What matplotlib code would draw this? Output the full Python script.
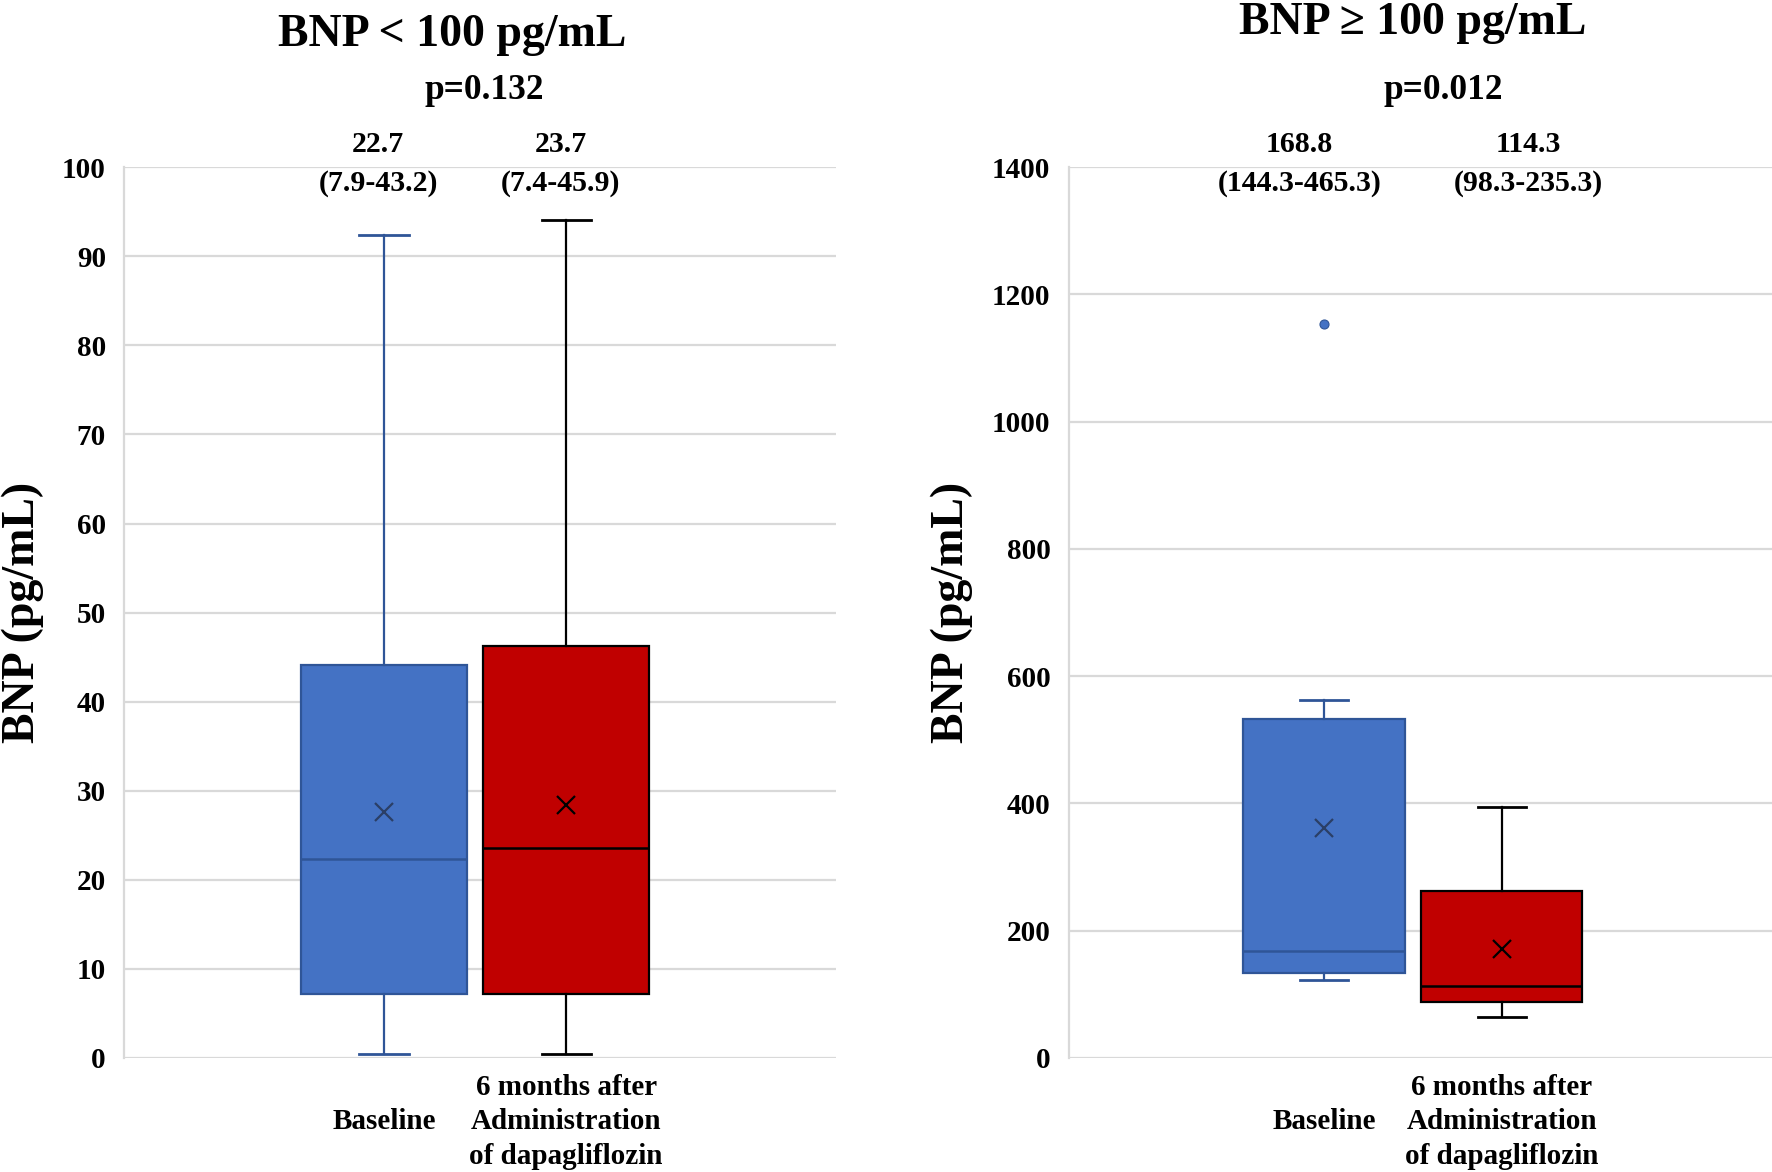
import matplotlib
matplotlib.use("Agg")
import matplotlib.pyplot as plt

plt.rcParams["font.family"] = ["Liberation Serif", "DejaVu Serif"]
plt.rcParams["font.weight"] = "bold"

# ---------------- data ----------------
groups = ["Baseline", "6 months after\nAdministration\nof dapagliflozin"]

# Panel 1: BNP < 100 pg/mL
low_title = "BNP < 100 pg/mL"
low_p = "p=0.132"
low_whislo = [0.5, 0.5]
low_q1 = [7.2, 7.2]
low_med = [22.3, 23.6]
low_q3 = [44.1, 46.3]
low_whishi = [92.4, 94.1]
low_mean = [27.6, 28.4]
low_fliers = [[], []]
low_med_txt = ["22.7", "23.7"]
low_iqr_txt = ["(7.9-43.2)", "(7.4-45.9)"]
low_ticks = [0, 10, 20, 30, 40, 50, 60, 70, 80, 90, 100]

# Panel 2: BNP >= 100 pg/mL
high_title = "BNP \u2265 100 pg/mL"
high_p = "p=0.012"
high_whislo = [122, 64]
high_q1 = [134, 88]
high_med = [168, 113]
high_q3 = [532, 263]
high_whishi = [563, 395]
high_mean = [362, 172]
high_fliers = [[1153], []]
high_med_txt = ["168.8", "114.3"]
high_iqr_txt = ["(144.3-465.3)", "(98.3-235.3)"]
high_ticks = [0, 200, 400, 600, 800, 1000, 1200, 1400]

# ---------------- style ----------------
BLUE = "#4472C4"
BLUE_EDGE = "#2F5597"
RED = "#C00000"
GRID = "#D9D9D9"
face_colors = [BLUE, RED]
edge_colors = [BLUE_EDGE, "#000000"]
mean_colors = ["#2B3F66", "#000000"]

fig = plt.figure(figsize=(17.72, 11.72), dpi=100)
ax1 = fig.add_axes([0.070, 0.0973, 0.402, 0.760])
ax2 = fig.add_axes([0.603, 0.0973, 0.397, 0.760])


def draw_panel(ax, whislo, q1, med, q3, whishi, mean, fliers, ticks,
               med_txt, iqr_txt, title, ptxt, xlim, title_x, title_y, p_x,
               txt_x, ylabel_x):
    positions = [1, 2]
    stats = []
    for i in range(2):
        stats.append(dict(whislo=whislo[i], q1=q1[i], med=med[i], q3=q3[i],
                          whishi=whishi[i], mean=mean[i], fliers=fliers[i]))
    for i in range(2):
        ec = edge_colors[i]
        ax.bxp([stats[i]], positions=[positions[i]], widths=0.91,
               patch_artist=True, showmeans=True, showfliers=True,
               boxprops=dict(facecolor=face_colors[i], edgecolor=ec, linewidth=1.6),
               medianprops=dict(color=ec, linewidth=1.8),
               whiskerprops=dict(color=ec, linewidth=1.6),
               capprops=dict(color=ec, linewidth=2.0),
               capwidths=0.27,
               meanprops=dict(marker="x", markersize=13, markeredgewidth=1.6,
                              markeredgecolor=mean_colors[i], markerfacecolor=mean_colors[i]),
               flierprops=dict(marker="o", markersize=6.5, markerfacecolor=BLUE,
                               markeredgecolor=BLUE_EDGE, markeredgewidth=0.8),
               zorder=3)
    ax.set_xlim(*xlim)
    ax.set_ylim(ticks[0], ticks[-1])
    ax.set_yticks(ticks)
    ax.set_yticklabels([str(t) for t in ticks], fontsize=21, fontweight="bold")
    ax.set_xticks(positions)
    ax.set_xticklabels(groups, fontsize=21, fontweight="bold",
                       multialignment="center", linespacing=1.36)
    for lab in ax.get_xticklabels():
        lab.set_va("center")
    ax.tick_params(axis="x", length=0, pad=46)
    ax.tick_params(axis="y", length=0, pad=13)
    ax.grid(axis="y", color=GRID, linewidth=1.6, zorder=0)
    ax.set_axisbelow(True)
    for s in ["top", "right", "bottom"]:
        ax.spines[s].set_visible(False)
    ax.spines["left"].set_color(GRID)
    ax.spines["left"].set_linewidth(1.6)
    ax.set_ylabel("BNP (pg/mL)", fontsize=33, fontweight="bold")
    ax.yaxis.set_label_coords(ylabel_x, 0.5)

    ax.text(title_x, title_y, title, transform=ax.transAxes, ha="center",
            va="center", fontsize=33, fontweight="bold")
    ax.text(p_x, 1.086, ptxt, transform=ax.transAxes, ha="center",
            va="center", fontsize=25.5, fontweight="bold")
    for i in range(2):
        ax.text(txt_x[i], 1.025, med_txt[i], transform=ax.transAxes,
                ha="center", va="center", fontsize=21.5, fontweight="bold")
        ax.text(txt_x[i], 0.982, iqr_txt[i], transform=ax.transAxes,
                ha="center", va="center", fontsize=21.5, fontweight="bold")


draw_panel(ax1, low_whislo, low_q1, low_med, low_q3, low_whishi, low_mean,
           low_fliers, low_ticks, low_med_txt, low_iqr_txt, low_title, low_p,
           xlim=(-0.427, 3.483), title_x=0.46, title_y=1.148, p_x=0.505,
           txt_x=[0.357, 0.613], ylabel_x=-0.113)

draw_panel(ax2, high_whislo, high_q1, high_med, high_q3, high_whishi, high_mean,
           high_fliers, high_ticks, high_med_txt, high_iqr_txt, high_title, high_p,
           xlim=(-0.438, 3.522), title_x=0.489, title_y=1.162, p_x=0.532,
           txt_x=[0.328, 0.653], ylabel_x=-0.136)

fig.savefig("out.png", dpi=100, facecolor="white")
